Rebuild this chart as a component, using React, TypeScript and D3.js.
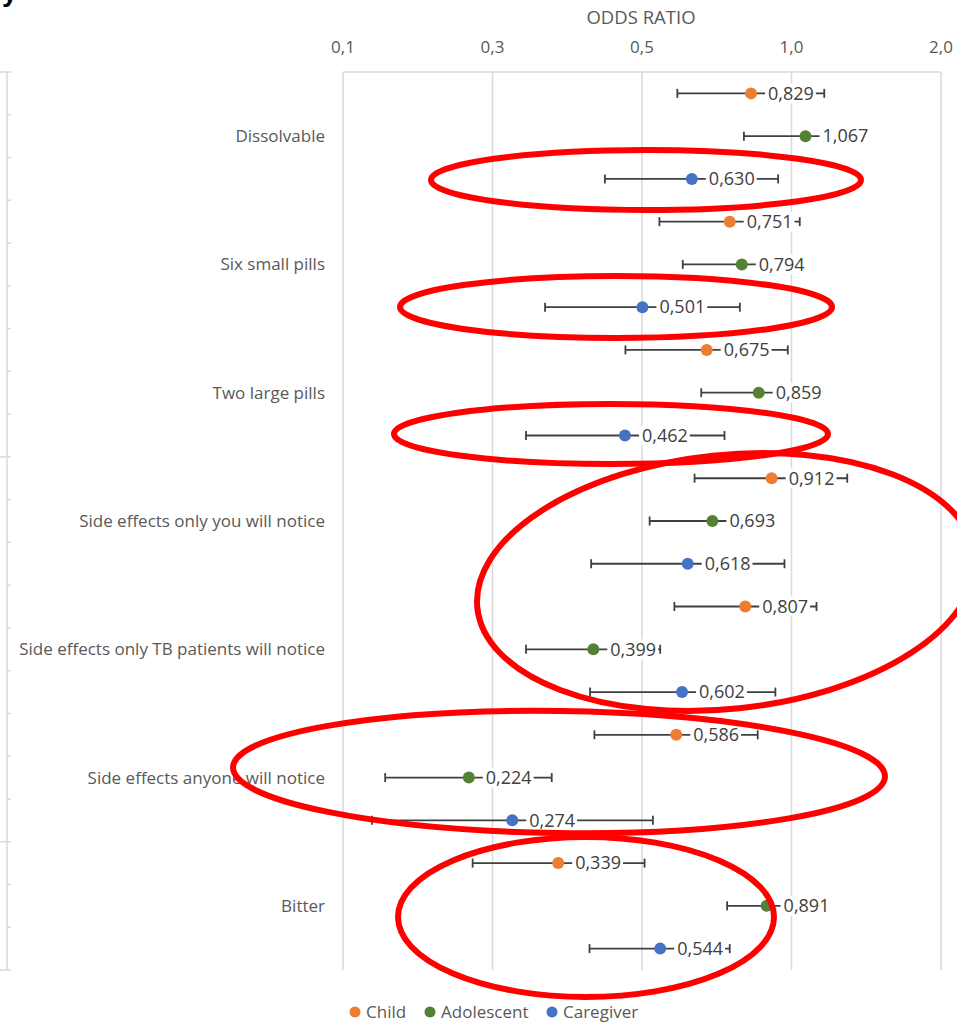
import React, { useEffect, useRef } from "react";
import * as d3 from "d3";

// Attribute levels (rows are grouped three per level)
const categories = [
  "Dissolvable",
  "Six small pills",
  "Two large pills",
  "Side effects only you will notice",
  "Side effects only TB patients will notice",
  "Side effects anyone will notice",
  "Bitter",
];

const groups = ["Child", "Adolescent", "Caregiver"];
const groupColors = ["#ED7D31", "#548235", "#4472C4"];

// Odds ratios with 95% confidence limits, one entry per attribute level
const childOR = [0.829, 0.751, 0.675, 0.912, 0.807, 0.586, 0.339];
const childLo = [0.589, 0.542, 0.463, 0.638, 0.581, 0.401, 0.228];
const childHi = [1.164, 1.039, 0.983, 1.295, 1.123, 0.855, 0.506];

const adolOR = [1.067, 0.794, 0.859, 0.693, 0.399, 0.224, 0.891];
const adolLo = [0.802, 0.604, 0.658, 0.518, 0.292, 0.152, 0.742];
const adolHi = [1.4, 1.04, 1.12, 0.9, 0.544, 0.329, 1.07];

const careOR = [0.63, 0.501, 0.462, 0.618, 0.602, 0.274, 0.544];
const careLo = [0.421, 0.319, 0.292, 0.395, 0.393, 0.143, 0.392];
const careHi = [0.94, 0.787, 0.733, 0.968, 0.928, 0.526, 0.751];

// Log2 axis gridlines
const tickValues = [0.125, 0.25, 0.5, 1, 2];

const W = 957;
const H = 1023;
const FONT = "'Open Sans', sans-serif";
const TEXT = "#595959";

export default function App() {
  const ref = useRef<SVGSVGElement>(null);

  useEffect(() => {
    const svg = d3.select(ref.current);
    svg.selectAll("*").remove();

    const plotTop = 72;
    const plotBottom = 970;
    const x = d3.scaleLog().base(2).domain([0.125, 2]).range([343, 941]);

    const rows = categories.flatMap((c, ci) =>
      groups.map((g, gi) => {
        const or = [childOR, adolOR, careOR][gi][ci];
        const lo = [childLo, adolLo, careLo][gi][ci];
        const hi = [childHi, adolHi, careHi][gi][ci];
        return { id: `${ci}-${gi}`, ci, gi, or, lo, hi };
      })
    );
    const y = d3
      .scaleBand<string>()
      .domain(rows.map((r) => r.id))
      .range([plotTop, plotBottom]);
    const cy = (id: string) => (y(id) as number) + y.bandwidth() / 2;

    const fmt1 = (v: number) => d3.format(".1f")(v).replace(".", ",");
    const fmt3 = (v: number) => d3.format(".3f")(v).replace(".", ",");

    // stray heading glyph at top-left
    svg
      .append("text")
      .attr("x", 2)
      .attr("y", 1)
      .attr("font-family", "'Liberation Sans', sans-serif")
      .attr("font-weight", "bold")
      .attr("font-size", 28)
      .attr("fill", "#000")
      .text("y");

    // left category axis of the neighbouring panel
    const leftAxis = svg.append("g").attr("stroke", "#d9d9d9").attr("stroke-width", 1.5);
    leftAxis.append("line").attr("x1", 7).attr("x2", 7).attr("y1", plotTop).attr("y2", plotBottom);
    d3.range(0, rows.length + 1).forEach((k) => {
      const yy = plotTop + k * y.step();
      const major = k === 0 || k === 9 || k === 18 || k === rows.length;
      leftAxis
        .append("line")
        .attr("x1", major ? 0 : 7)
        .attr("x2", 11)
        .attr("y1", yy)
        .attr("y2", yy);
    });

    // gridlines and top border
    const grid = svg.append("g").attr("stroke", "#d9d9d9").attr("stroke-width", 1.5);
    tickValues.forEach((t) => {
      grid
        .append("line")
        .attr("x1", x(t))
        .attr("x2", x(t))
        .attr("y1", plotTop)
        .attr("y2", plotBottom);
    });
    grid
      .append("line")
      .attr("x1", x(0.125))
      .attr("x2", x(2))
      .attr("y1", plotTop)
      .attr("y2", plotTop);

    // tick labels
    svg
      .append("g")
      .selectAll("text")
      .data(tickValues)
      .join("text")
      .attr("x", (d) => x(d))
      .attr("y", 53)
      .attr("text-anchor", "middle")
      .attr("font-family", FONT)
      .attr("font-size", 17)
      .attr("fill", TEXT)
      .text((d) => fmt1(d));

    // axis title
    svg
      .append("text")
      .attr("x", 641)
      .attr("y", 24)
      .attr("text-anchor", "middle")
      .attr("font-family", FONT)
      .attr("font-size", 18.5)
      .attr("fill", TEXT)
      .text("ODDS RATIO");

    // category labels
    svg
      .append("g")
      .selectAll("text")
      .data(categories)
      .join("text")
      .attr("x", 325)
      .attr("y", (_, ci) => cy(`${ci}-1`))
      .attr("dy", "0.35em")
      .attr("text-anchor", "end")
      .attr("font-family", FONT)
      .attr("font-size", 17)
      .attr("fill", TEXT)
      .text((d) => d);

    // error bars
    const eb = svg.append("g").attr("stroke", "#404040").attr("stroke-width", 1.8);
    rows.forEach((r) => {
      const yy = cy(r.id);
      eb.append("line").attr("x1", x(r.lo)).attr("x2", x(r.hi)).attr("y1", yy).attr("y2", yy);
      [r.lo, r.hi].forEach((v) =>
        eb
          .append("line")
          .attr("x1", x(v))
          .attr("x2", x(v))
          .attr("y1", yy - 4.5)
          .attr("y2", yy + 4.5)
      );
    });

    // markers
    svg
      .append("g")
      .selectAll("circle")
      .data(rows)
      .join("circle")
      .attr("cx", (r) => x(r.or))
      .attr("cy", (r) => cy(r.id))
      .attr("r", 6)
      .attr("fill", (r) => groupColors[r.gi]);

    // value labels on white boxes
    const lab = svg.append("g");
    rows.forEach((r) => {
      const px = x(r.or);
      const yy = cy(r.id);
      const bg = lab.append("rect");
      const t = lab
        .append("text")
        .attr("x", px + 17)
        .attr("y", yy)
        .attr("dy", "0.35em")
        .attr("font-family", FONT)
        .attr("font-size", 18)
        .attr("fill", "#404040")
        .text(fmt3(r.or));
      const w = (t.node() as SVGTextElement).getComputedTextLength();
      bg.attr("x", px + 14)
        .attr("y", yy - 10)
        .attr("width", w + 5)
        .attr("height", 20)
        .attr("fill", "#fff");
    });

    // legend
    const legend = svg.append("g");
    const legendX = [355, 430, 552];
    groups.forEach((g, gi) => {
      legend
        .append("circle")
        .attr("cx", legendX[gi])
        .attr("cy", 1012)
        .attr("r", 5.5)
        .attr("fill", groupColors[gi]);
      legend
        .append("text")
        .attr("x", legendX[gi] + 11)
        .attr("y", 1012)
        .attr("dy", "0.35em")
        .attr("font-family", FONT)
        .attr("font-size", 17)
        .attr("fill", TEXT)
        .text(g);
    });

    // red highlight rings
    const rings = [
      { cx: 646, cy: 180, rx: 215, ry: 30, rot: 0 },
      { cx: 616, cy: 307, rx: 216, ry: 31, rot: 0 },
      { cx: 611, cy: 434, rx: 217, ry: 30, rot: 0 },
      { cx: 726, cy: 582, rx: 250, ry: 127, rot: -6 },
      { cx: 559, cy: 772, rx: 326, ry: 61, rot: 0.8 },
      { cx: 586, cy: 917, rx: 188, ry: 80, rot: 0 },
    ];
    svg
      .append("g")
      .selectAll("ellipse")
      .data(rings)
      .join("ellipse")
      .attr("cx", 0)
      .attr("cy", 0)
      .attr("rx", (d) => d.rx)
      .attr("ry", (d) => d.ry)
      .attr("transform", (d) => `translate(${d.cx},${d.cy}) rotate(${d.rot})`)
      .attr("fill", "none")
      .attr("stroke", "#ff0000")
      .attr("stroke-width", 6);
  }, []);

  return (
    <svg
      ref={ref}
      width={W}
      height={H}
      style={{ position: "absolute", left: 0, top: 0, display: "block", background: "#fff" }}
    />
  );
}
